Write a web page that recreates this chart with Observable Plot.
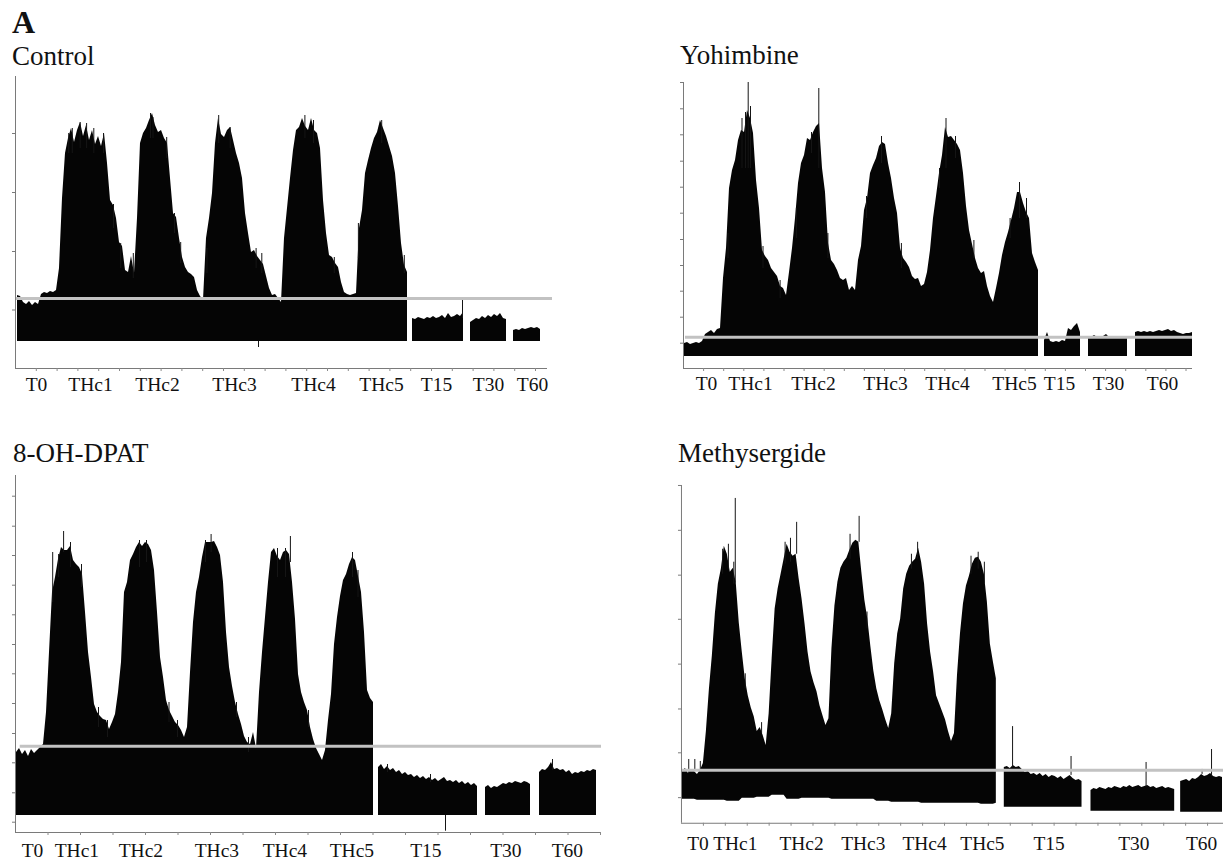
<!DOCTYPE html>
<html><head><meta charset="utf-8">
<script src="https://cdn.jsdelivr.net/npm/d3@7"></script>
<script src="https://cdn.jsdelivr.net/npm/@observablehq/plot@0.6"></script>
<style>
html,body{margin:0;padding:0;background:#fff}
body{width:1225px;height:859px;overflow:hidden;position:relative;font-family:"Liberation Serif","Times New Roman",serif}
.t{position:absolute;font-size:27px;line-height:27px;white-space:nowrap;color:#111}
.p{position:absolute}
</style></head><body>
<div class="t" style="left:12px;top:6px;font-size:32px;line-height:32px;font-weight:bold">A</div>
<div class="t" style="left:12px;top:43px">Control</div>
<div class="t" style="left:680px;top:42px">Yohimbine</div>
<div class="t" style="left:13px;top:440px">8-OH-DPAT</div>
<div class="t" style="left:678px;top:440px">Methysergide</div>
<script>
// ---------- data (x: sample time, arbitrary units; y: amplitude, arbitrary units) ----------
const STEP = 3;
const tickLabels = ["T0","THc1","THc2","THc3","THc4","THc5","T15","T30","T60"];

// Control
const controlLabelX = [21, 75, 142, 219, 298, 366, 421, 473, 517];
const controlSegStart = [2, 397, 455, 498];
const controlMain = [73,72,66,64,67,63,66,64,74,76,
75,77,76,78,100,170,215,230,240,226,
238,246,232,243,228,238,224,232,222,235,
205,168,163,150,126,122,98,96,112,95,
150,225,235,240,248,255,243,236,238,230,
225,190,155,151,130,111,101,96,94,91,
78,72,68,130,150,175,225,250,234,231,
238,241,228,215,205,190,155,135,116,118,
112,108,104,92,80,73,74,70,66,130,
160,190,218,238,241,250,242,238,250,238,
235,220,168,135,113,111,105,101,86,76,
74,73,74,75,140,158,195,208,220,230,
236,248,240,232,222,212,195,162,125,103,96];
const controlT15 = [50,49,51,50,49,51,50,52,50,51,53,50,55,51,52,54,52,56];
const controlT30 = [46,48,50,49,52,50,53,51,54,52,55,50,49];
const controlT60 = [38,39,38,40,39,40,41,40,41,39];
const controlLower = [27, 27, 27, 27];
const controlBaseline = 70;
const controlSpikes = [[447,50,68],[243,21,27],
  [53.2,215,235],[56.8,215,240],[64.7,220,246],[71.1,220,245],[78.3,215,240],[88,215,235],
  [98,140,164],[105.2,100,125],[117.8,90,115],
  [135,230,255],[137.5,230,251],[151.2,210,231],[159,135,155],[165.2,105,126],
  [191.4,95,120],[203.2,225,253],[214.7,220,241],[240.6,100,120],[246.3,95,115],
  [289.4,230,253],[298,225,248],[318.8,95,111],
  [342.9,110,145],[366.2,225,248],[388.8,95,113]];
const controlYTicks = [58.5, 117, 176, 235];

// Yohimbine
const yohLabelX = [23, 67, 130, 202, 264, 331, 376, 425, 479];
const yohSegStart = [1, 361, 405, 452];
const yohMain = [25,26,24,25,26,25,27,34,36,38,
35,39,40,90,120,180,198,208,228,238,
236,258,250,235,188,160,118,112,108,100,
96,92,82,80,73,96,120,150,185,205,
213,230,228,236,242,245,200,176,125,108,
104,98,90,88,90,78,82,78,108,122,
158,170,195,203,210,222,226,224,205,190,
170,155,120,110,106,101,92,89,90,82,
84,96,118,150,172,195,213,241,231,232,
228,224,218,195,162,138,124,110,100,95,
97,82,72,66,80,95,113,126,136,148,
160,176,176,165,156,150,115,106,98];
const yohT15 = [28,36,27,26,27,26,28,27,40,38,42,45,36];
const yohT30 = [30,31,33,31,31,32,34,31,30,31,31,30,31,30];
const yohT60 = [36,37,36,37,36,37,36,37,38,37,38,39,37,38,36,35,34,35,35,36];
const yohLower = [12, 12, 12, 12];
const yohBaseline = 31.3;
const yohSpikes = [[64.7,200,286],[135.3,200,280],[62,200,256],[58.5,200,250],[67,200,262],[262.5,200,250],[336,150,186],[343,150,170],
  [44.5,110,135],[79.5,100,122],[96.6,70,88],[112.9,130,160],[128,215,236],[144.4,110,135],[183,150,172],[198,205,232],[217.9,100,125],[256,180,200],[272,210,232],[290.4,110,128],[326.6,130,150]];
const yohYTicks = [25.3, 51.3, 77.3, 103, 129, 155.3, 181.3, 207.3, 233.7, 259.7, 286];

// 8-OH-DPAT
const dpatLabelX = [17, 61.4, 125.4, 201.4, 269.4, 336.4, 410.4, 490.4, 551.9];
const dpatSegStart = [1, 363, 470, 524];
const dpatMain = [80,84,78,82,76,83,79,82,85,88,
120,180,240,255,273,285,282,282,286,272,
268,265,258,220,180,155,128,120,116,113,
112,103,110,118,140,170,240,250,272,278,
285,290,286,290,288,282,262,220,175,155,
132,122,116,110,107,102,95,105,160,210,
240,255,275,290,290,290,291,285,277,250,
200,165,146,130,118,108,96,90,88,100,
84,140,180,215,250,280,284,276,272,280,
282,278,250,213,158,140,130,122,105,93,
84,78,72,82,112,138,188,215,236,252,
258,268,275,272,256,240,200,142,134,130];
const dpatT15 = [65,68,63,66,62,64,60,62,58,60,57,58,55,57,54,56,53,55,52,54,51,53,55,51,52,50,52,49,51,48,50,47,49,46];
const dpatT30 = [45,47,44,46,45,47,49,48,50,49,51,50,49,51,50,48];
const dpatT60 = [60,63,62,65,70,63,64,62,63,60,62,58,60,59,61,60,62,61,63,62];
const dpatLower = [17, 17, 17, 17];
const dpatBaseline = 86.3;
const dpatSpikes = [[37.2,230,280],[48.1,280,301],[195.6,280,298],[274.9,270,296],[430,1.3,17],
  [43.1,255,278],[55,265,290],[66,245,268],[83,105,125],[92,95,112],[124,265,292],[131,270,292],[153.5,110,130],[162,95,112],[190,270,292],[221,115,130],[233,80,95],[262,255,284],[270,255,284],[293,105,122],[337,255,280],[342.5,235,262],
  [372,60,68],[415,50,58],[537,62,73]];
const dpatYTicks = [10.3, 39.7, 69.7, 99, 129, 158.7, 188, 217.7, 247.3, 277, 306.3, 336.3];

// Methysergide
const methLabelX = [16.5, 54, 120.5, 182.5, 244, 302, 369, 454, 522];
const methSegStart = [1, 324, 411, 501];
const methMain = [52,55,50,54,52,49,53,60,92,134,
168,210,240,255,278,270,252,256,241,201,
172,145,128,116,107,92,96,88,78,110,
165,215,235,250,265,280,272,268,270,246,
225,200,172,152,141,132,118,108,98,105,
175,218,242,256,262,266,274,281,284,282,
252,224,205,178,153,135,123,114,104,95,
110,160,190,205,235,250,258,262,265,276,
262,240,200,172,152,128,120,112,104,92,
82,90,148,190,220,238,248,260,266,267,
262,250,222,180,162,145];
const methMainLower = [24,23,23,22,25,26,28,24,25,25,24,24,24,22,21,21,20,20,20,20,19,20]; // every 15 units
const methT15 = [56,57,55,58,56,57,54,51,52,49,50,48,50,47,49,46,48,47,45,47,44,46,48,45,43,44,42];
const methT30 = [33,35,34,36,35,34,36,35,37,36,35,37,36,38,36,37,38,36,37,38,36,37,35,36,37,35,36,35,34];
const methT60 = [42,43,44,42,45,44,46,49,47,48,50,47,46,47,46];
const methLower = [methMainLower, 16, 12, 11];
const methBaseline = 53.3;
const methSpikes = [[54,241,326],[115.6,270,302],[178.3,282,308],[332.3,56,97],[391,48,67],[466.3,36,61],[522.5,49,54],[532,47,74],[7.3,50,64],[13.4,52,64],[18.9,53,62],[80.4,90,101],
  [41.3,250,275],[47.1,255,280],[52.5,240,262],[64,135,150],[104,260,282],[109.4,262,286],[169.2,265,290],[186.2,195,212],[230.8,255,270],[237,265,282],[290.6,250,268],[297.8,255,272],[304,240,262]];
const methYTicks = [25.7, 70.7, 114.7, 159.7, 204.7, 249, 294, 339];

// ---------- drawing ----------
function panel(cfg) {
  const mL = 8, mR = 2, mT = 4, mB = 36;
  const rows = [];
  cfg.segHi.forEach((arr, k) => {
    const lo = cfg.segLo[k];
    arr.forEach((v, i) => {
      const lov = Array.isArray(lo) ? lo[Math.min(lo.length - 1, Math.floor(i * STEP / 15))] : lo;
      rows.push({x: cfg.segStart[k] + i * STEP, hi: v, lo: lov, seg: k});
    });
  });
  const labelMap = new Map(cfg.labelX.map((p, i) => [p, tickLabels[i]]));
  const xTicks = d3.range(1, Math.floor(cfg.axisEnd / cfg.xTickStep) + 1).map(k => k * cfg.xTickStep);
  const svg = Plot.plot({
    width: mL + cfg.xMax + mR,
    height: mT + cfg.yMax + mB,
    marginLeft: mL, marginRight: mR, marginTop: mT, marginBottom: mB,
    x: {domain: [0, cfg.xMax], axis: null, label: null},
    y: {domain: [0, cfg.yMax], axis: null, label: null},
    style: {background: "transparent", overflow: "visible"},
    marks: [
      Plot.areaY(rows, {x: "x", y1: "lo", y2: "hi", z: "seg", fill: "#050505", curve: "linear"}),
      Plot.ruleX(cfg.spikes, {x: d => d[0], y1: d => d[1], y2: d => d[2], stroke: "#151515", strokeWidth: 1}),
      Plot.ruleY([cfg.baseline], {x1: cfg.grayX1, x2: cfg.xMax, stroke: "#c2c2c2", strokeWidth: 3}),
      Plot.ruleX([0], {y1: 0, y2: cfg.yMax, stroke: "#7a7a7a"}),
      Plot.ruleY([0], {x1: 0, x2: cfg.axisEnd, stroke: "#7a7a7a"}),
      Plot.ruleY(cfg.yTicks, {x1: -3, x2: 0, stroke: "#7a7a7a"}),
      Plot.ruleX(xTicks, {y1: 0, y2: -3, stroke: "#8a8a8a"}),
      Plot.axisX(cfg.labelX, {tickSize: 0, tickPadding: cfg.labelPad, label: null,
        tickFormat: d => labelMap.get(d), fontSize: 19.5,
        fontFamily: "Liberation Serif", fill: "#111"})
    ]
  });
  const div = document.createElement("div");
  div.className = "p";
  div.style.left = (cfg.axisX - mL) + "px";
  div.style.top = (cfg.axisY - cfg.yMax - mT) + "px";
  div.appendChild(svg);
  document.body.appendChild(div);
}

panel({axisX: 15, axisY: 368, xMax: 537, yMax: 292, axisEnd: 532, xTickStep: 20.8, labelPad: 9,
  labelX: controlLabelX, segStart: controlSegStart, segHi: [controlMain, controlT15, controlT30, controlT60],
  segLo: controlLower, baseline: controlBaseline, grayX1: 0, spikes: controlSpikes, yTicks: controlYTicks});

panel({axisX: 683, axisY: 368, xMax: 509, yMax: 286, axisEnd: 509, xTickStep: 20.1, labelPad: 8,
  labelX: yohLabelX, segStart: yohSegStart, segHi: [yohMain, yohT15, yohT30, yohT60],
  segLo: yohLower, baseline: yohBaseline, grayX1: 2, spikes: yohSpikes, yTicks: yohYTicks});

panel({axisX: 15, axisY: 832, xMax: 586, yMax: 357, axisEnd: 586, xTickStep: 32.5, labelPad: 11,
  labelX: dpatLabelX, segStart: dpatSegStart, segHi: [dpatMain, dpatT15, dpatT30, dpatT60],
  segLo: dpatLower, baseline: dpatBaseline, grayX1: 4.7, spikes: dpatSpikes, yTicks: dpatYTicks});

panel({axisX: 681, axisY: 824, xMax: 544, yMax: 339, axisEnd: 544, xTickStep: 22, labelPad: 13,
  labelX: methLabelX, segStart: methSegStart, segHi: [methMain, methT15, methT30, methT60],
  segLo: methLower, baseline: methBaseline, grayX1: 1, spikes: methSpikes, yTicks: methYTicks});
</script>
</body></html>
